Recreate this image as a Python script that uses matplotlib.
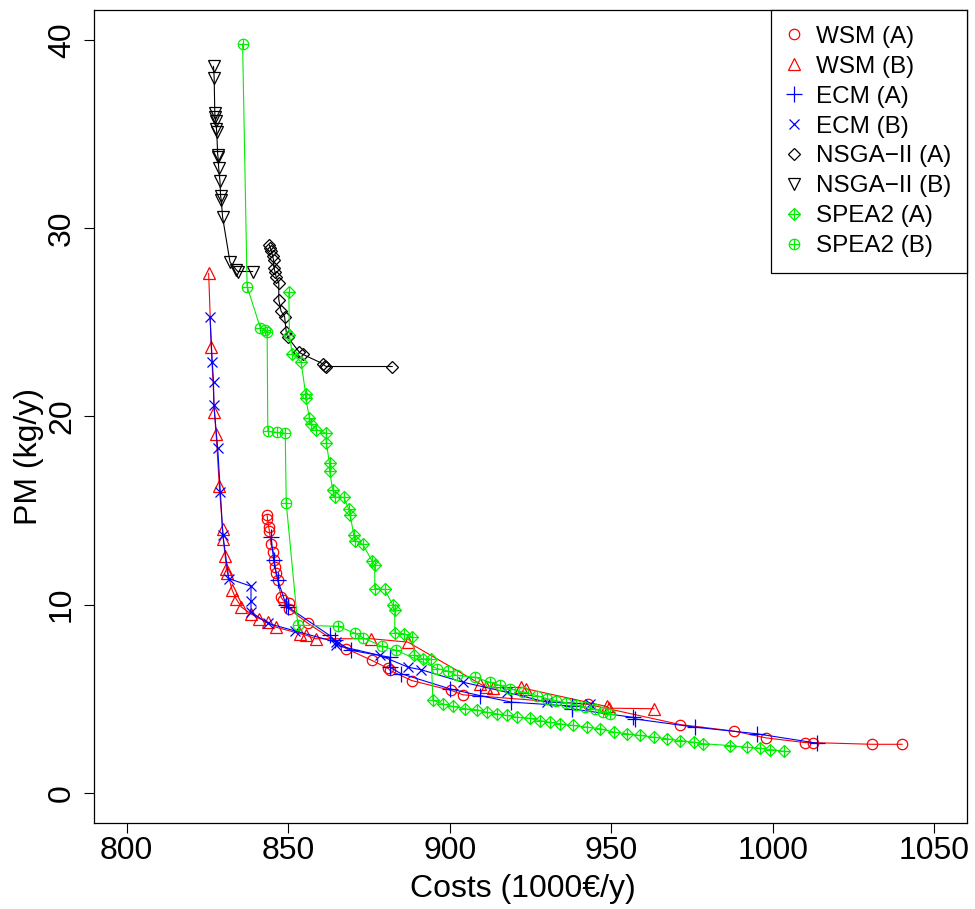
import matplotlib
matplotlib.use("Agg")
import matplotlib.pyplot as plt
from matplotlib.lines import Line2D
from matplotlib.legend_handler import HandlerTuple

plt.rcParams['font.family'] = ['Liberation Sans', 'DejaVu Sans']

# WSM (A)
wsm_a_x = [843.5, 843.6, 844.0, 844.2, 844.7, 845.4, 845.7, 846.0, 846.2, 846.8, 847.8, 848.3, 850.2, 850.4,
           856.1, 868.0, 875.9, 881.0, 881.5, 888.2, 900.5, 904.1, 942.9, 971.3, 988.0, 997.9, 1010.0,
           1012.3, 1030.7, 1040.0]
wsm_a_y = [14.75, 14.55, 14.1, 13.9, 13.2, 12.8, 12.35, 12.0, 11.65, 11.3, 10.4, 10.25, 10.1, 9.75,
           9.0, 7.65, 7.03, 6.6, 6.5, 5.96, 5.43, 5.2, 4.69, 3.62, 3.27, 2.91, 2.66,
           2.66, 2.57, 2.57]

# WSM (B)
wsm_b_x = [825.4, 826.2, 827.2, 827.7, 828.7, 829.7, 829.9, 830.5, 830.9, 831.2, 832.7, 833.9, 835.5,
           838.5, 841.1, 843.7, 846.1, 853.7, 855.6, 858.5, 875.7, 887.1, 909.3, 911.2, 913.4, 922.2,
           923.6, 948.6, 949.4, 963.2]
wsm_b_y = [27.6, 23.7, 20.25, 19.05, 16.3, 14.0, 13.5, 12.6, 11.9, 11.7, 10.75, 10.3, 9.87,
           9.5, 9.25, 9.07, 8.8, 8.45, 8.36, 8.18, 8.18, 8.0, 5.79, 5.6, 5.57, 5.6,
           5.52, 4.58, 4.49, 4.46]

# ECM (A)
ecm_a_x = [844.7, 845.5, 846.8, 849.4, 849.9, 862.8, 864.4, 869.5, 881.4, 881.4, 885.0, 900.0, 909.3,
           919.1, 937.7, 937.9, 956.8, 957.2, 975.9, 995.0, 1013.6]
ecm_a_y = [13.6, 12.35, 11.3, 9.96, 9.87, 8.36, 8.1, 7.56, 7.2, 6.67, 6.32, 5.52, 5.16,
           4.81, 4.6, 4.45, 4.0, 3.92, 3.48, 3.13, 2.63]

# ECM (B)
ecm_b_x = [825.8, 826.5, 826.9, 827.0, 828.2, 829.0, 829.8, 831.6, 838.5, 838.5, 838.5, 843.7, 852.0,
           864.9, 864.9, 878.3, 887.1, 891.2, 904.1, 917.6, 930.0, 943.4]
ecm_b_y = [25.3, 22.9, 21.85, 20.6, 18.3, 16.0, 13.7, 11.38, 10.97, 10.2, 9.6, 9.0, 8.6,
           8.0, 7.83, 7.3, 6.67, 6.53, 5.87, 5.34, 4.81, 4.72]

# NSGA-II (A)
nsga_a_x = [844.2, 844.5, 844.8, 845.2, 845.5, 845.6, 845.9, 846.3, 847.1, 847.1, 847.8, 848.9, 849.4,
            849.9, 853.5, 854.5, 860.7, 861.3, 861.8, 882.2]
nsga_a_y = [29.1, 28.95, 28.8, 28.5, 28.3, 27.9, 27.7, 27.4, 27.1, 26.2, 25.6, 25.3, 24.5,
            24.2, 23.4, 23.3, 22.8, 22.7, 22.65, 22.65]

# NSGA-II (B)
nsga_b_x = [826.9, 827.1, 827.3, 827.4, 827.6, 827.8, 827.9, 828.2, 828.3, 828.5, 828.9, 829.1, 829.3,
            829.7, 832.0, 833.9, 834.4, 839.0]
nsga_b_y = [38.6, 38.0, 36.1, 35.9, 35.7, 35.3, 35.1, 33.9, 33.8, 33.2, 32.5, 31.7, 31.5,
            30.6, 28.2, 27.8, 27.7, 27.7]

# SPEA2 (A)
spea_a_x = [850.2, 850.4, 851.3, 854.0, 855.4, 855.4, 856.6, 857.1, 858.7, 861.8, 861.8, 862.8, 862.8,
            863.8, 864.4, 867.2, 868.8, 869.2, 870.3, 870.6, 873.1, 876.0, 876.8, 876.8, 879.9, 882.4,
            883.0, 883.0, 885.7, 888.4, 889.1, 891.7, 894.3, 894.8, 897.9, 901.0, 904.7, 908.3, 911.4,
            914.5, 917.6, 920.7, 924.8, 927.9, 931.0, 934.1, 938.3, 942.4, 946.5, 950.7, 954.8, 958.9,
            963.1, 967.2, 971.4, 975.5, 978.5, 986.8, 991.9, 996.1, 999.2, 1003.3]
spea_a_y = [26.6, 24.3, 23.3, 22.9, 21.2, 21.0, 19.9, 19.6, 19.3, 19.1, 18.6, 17.5, 17.1,
            16.1, 15.7, 15.7, 15.05, 14.75, 13.7, 13.4, 13.2, 12.3, 12.1, 10.85, 10.8, 9.96,
            9.7, 8.5, 8.45, 8.27, 7.3, 7.1, 7.1, 4.9, 4.72, 4.58, 4.46, 4.4, 4.28,
            4.19, 4.1, 4.01, 3.95, 3.83, 3.74, 3.66, 3.57, 3.48, 3.40, 3.22, 3.13, 3.04,
            2.95, 2.86, 2.77, 2.68, 2.6, 2.5, 2.41, 2.36, 2.29, 2.2]

# SPEA2 (B)
spea_b_x = [835.9, 837.3, 841.4, 842.7, 843.5, 843.7, 846.5, 849.1, 849.4, 853.0, 865.4, 870.6, 873.1,
            879.1, 883.5, 896.2, 899.5, 902.1, 907.7, 912.4, 915.5, 918.6, 922.7, 926.9, 930.0, 933.0,
            936.0, 939.0, 942.0, 945.0, 947.5, 949.6]
spea_b_y = [39.8, 26.9, 24.7, 24.6, 24.5, 19.2, 19.15, 19.1, 15.4, 8.9, 8.84, 8.48, 8.24,
            7.77, 7.56, 6.59, 6.46, 6.23, 6.14, 5.87, 5.70, 5.52, 5.34, 5.16, 5.0, 4.88,
            4.78, 4.66, 4.55, 4.42, 4.3, 4.2]

RED, BLUE, BLACK, GREEN = "#FF0000", "#0000FF", "#000000", "#00EE00"
LW = 0.8

fig = plt.figure(figsize=(9.75, 9.09), dpi=100)
ax = fig.add_axes([0.0967, 0.0949, 0.8948, 0.8941])

def series(x, y, color, marker, ms, extra=None):
    ax.plot(x, y, color=color, lw=LW, marker=marker, ms=ms, mfc='none', mec=color, mew=0.9)
    if extra is not None:
        ax.plot(x, y, ls='none', marker=extra[0], ms=extra[1], mec=color, mew=0.9)

series(wsm_a_x, wsm_a_y, RED, 'o', 7.5)
series(wsm_b_x, wsm_b_y, RED, '^', 8.5)
series(ecm_a_x, ecm_a_y, BLUE, '+', 11)
series(ecm_b_x, ecm_b_y, BLUE, 'x', 7.5)
series(nsga_a_x, nsga_a_y, BLACK, 'D', 6.2)
series(nsga_b_x, nsga_b_y, BLACK, 'v', 8.5)
series(spea_a_x, spea_a_y, GREEN, 'D', 6.2, ('+', 8.8))
series(spea_b_x, spea_b_y, GREEN, 'o', 7.5, ('+', 7.5))

ax.set_xlim(790, 1060)
ax.set_ylim(-1.6, 41.6)
ax.set_xticks([800, 850, 900, 950, 1000, 1050])
ax.set_yticks([0, 10, 20, 30, 40])
ax.tick_params(axis='both', labelsize=23, length=7.5, width=0.8, direction='out')
ax.tick_params(axis='x', pad=2)
ax.tick_params(axis='y', pad=5)
for lab in ax.get_yticklabels():
    lab.set_rotation(90)
    lab.set_va('center')
for s in ax.spines.values():
    s.set_linewidth(0.9)

ax.set_xlabel("Costs (1000€/y)", fontsize=23)
ax.set_ylabel("PM (kg/y)", fontsize=23)
ax.xaxis.set_label_coords(0.4914, -0.063)
ax.yaxis.set_label_coords(-0.058, 0.451)

def h(color, marker, ms):
    return Line2D([], [], ls='none', marker=marker, ms=ms, mfc='none', mec=color, mew=0.9)

handles = [h(RED, 'o', 7.5), h(RED, '^', 8.5), h(BLUE, '+', 11), h(BLUE, 'x', 7.5),
           h(BLACK, 'D', 6.2), h(BLACK, 'v', 8.5),
           (h(GREEN, 'D', 6.2), h(GREEN, '+', 8.8)), (h(GREEN, 'o', 7.5), h(GREEN, '+', 7.5))]
labels = ["WSM (A)", "WSM (B)", "ECM (A)", "ECM (B)", "NSGA\u2212II (A)", "NSGA\u2212II (B)",
          "SPEA2 (A)", "SPEA2 (B)"]
leg = ax.legend(handles, labels, loc='upper right', borderaxespad=0, fontsize=17.5,
                handler_map={tuple: HandlerTuple(ndivide=1)}, fancybox=False, framealpha=1,
                edgecolor='black', labelspacing=0.325, handlelength=0.6, handletextpad=0.6,
                borderpad=0.65)
leg.get_frame().set_linewidth(0.9)

fig.savefig("out.png", dpi=100)
